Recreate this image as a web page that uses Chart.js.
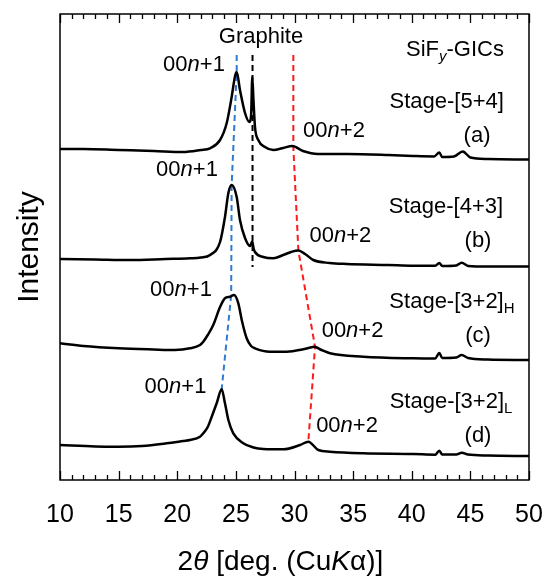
<!DOCTYPE html>
<html>
<head>
<meta charset="utf-8">
<script src="https://cdn.jsdelivr.net/npm/chart.js@4/dist/chart.umd.min.js"></script>
<style>
  html, body { margin: 0; padding: 0; background: #fff; }
</style>
</head>
<body>
<canvas id="chart" width="545" height="578"></canvas>
<script>
'use strict';

// 2theta values and intensities (offset already included)
const thetaA = [10, 12, 15, 18, 20.5, 22.0, 22.8, 23.65, 24.22, 24.64, 24.93, 25.07, 25.35, 25.78, 26.15, 26.3, 26.4, 26.5, 26.63, 26.91, 27.48, 28.19, 29.04, 29.8, 30.72, 32.0, 34.5, 38.0, 40.1, 41.9, 42.35, 42.6, 43.6, 44.35, 45.0, 46.5, 50];
const intA   = [331, 331, 330, 329, 328, 330, 331.7, 340, 357, 383, 404, 408, 390, 367, 358, 365, 403, 380, 353, 340, 333, 330, 332, 334, 329, 326, 326, 325, 324, 323.5, 327.5, 323, 323.5, 328.5, 322.5, 321, 320.5];

const thetaB = [10, 13, 16, 19, 21.09, 22.0, 22.8, 23.65, 24.07, 24.36, 24.64, 25.07, 25.35, 25.78, 26.2, 26.4, 26.5, 26.63, 27.34, 28.19, 29.04, 29.7, 30.33, 30.9, 31.6, 33.0, 34.45, 38, 40.13, 42.0, 42.35, 42.6, 43.8, 44.26, 44.8, 46.5, 50];
const intB   = [221, 220.5, 220, 221, 221.7, 222.5, 225, 238, 263, 287, 295, 283, 260, 242, 234, 238.5, 232, 228, 223, 221.7, 225, 228, 229.5, 226, 220, 217, 216, 215, 214.3, 214.3, 217, 214, 214.5, 217.3, 214, 213.5, 213.5];

const thetaC = [10, 12, 15, 18, 19.8, 21.09, 21.94, 22.22, 22.6, 23.07, 23.65, 24.07, 24.5, 24.84, 25.21, 25.5, 25.92, 26.3, 26.63, 27.91, 29.33, 30.75, 31.2, 31.7, 32.3, 33.03, 35.87, 40.13, 42.0, 42.35, 42.6, 43.8, 44.26, 44.8, 46.5, 50];
const intC   = [136.7, 134, 131.7, 130.5, 130, 131.7, 135, 138.3, 145, 155, 173, 181.7, 183.3, 185, 176.7, 160, 141.7, 134, 131.7, 128.3, 128.3, 130.7, 132, 133.3, 130, 126.7, 123.3, 121.7, 121.5, 127, 122, 122.5, 125, 122, 120.5, 120];

const thetaD = [10, 13, 15, 17, 19.1, 20.5, 21.09, 21.94, 22.22, 22.6, 22.94, 23.36, 23.79, 24.07, 24.36, 24.78, 25.63, 26.5, 27.34, 29.04, 30.47, 31.18, 32.03, 33.03, 35.87, 40.13, 42.0, 42.35, 42.6, 43.8, 44.26, 44.8, 46.5, 50];
const intD   = [35, 33.5, 33.3, 34, 36.7, 39, 40, 43.3, 46.7, 53, 63.3, 76.7, 90.7, 76.7, 60, 46.7, 36.7, 32.5, 31, 30.7, 35, 38.3, 30, 28.3, 26.7, 26, 25.3, 29.3, 25.5, 25.5, 27.3, 25.5, 24.5, 24];

// guide lines through the peaks
const blueX = [25.07, 25.07, 24.64, 24.6, 23.79];
const blueY = [425, 408, 295, 185, 90.7];
const blackX = [26.42, 26.42];
const blackY = [425, 213];
const redX = [29.9, 29.9, 30.33, 31.75, 31.18];
const redY = [425, 333, 229.5, 133.3, 38.3];

const xTicks = [10, 15, 20, 25, 30, 35, 40, 45, 50];

const FONT = '"Liberation Sans", Arial, sans-serif';

// annotation labels: [theta, y, parts]
const N1 = [['00', 'n'], ['n', 'i'], ['+1', 'n']];
const N2 = [['00', 'n'], ['n', 'i'], ['+2', 'n']];
const labels = [
  [27.14, 443, [['Graphite', 'n']]],
  [43.69, 430, [['SiF', 'n'], ['y', 'isub'], ['-GICs', 'n']]],
  [21.43, 415, N1], [33.37, 349, N2],
  [42.98, 378, [['Stage-[5+4]', 'n']]], [45.57, 344, [['(a)', 'n']]],
  [20.83, 310, N1], [33.92, 244, N2],
  [42.92, 273, [['Stage-[4+3]', 'n']]], [45.65, 239, [['(b)', 'n']]],
  [20.32, 190, N1], [34.95, 149, N2],
  [43.43, 178, [['Stage-[3+2]', 'n'], ['H', 'sub']]], [45.65, 144, [['(c)', 'n']]],
  [19.85, 93, N1], [34.48, 54, N2],
  [43.35, 78, [['Stage-[3+2]', 'n'], ['L', 'sub']]], [45.65, 44, [['(d)', 'n']]]
];

function pts(xs, ys) {
  return xs.map((x, i) => ({ x: x, y: ys[i] }));
}

function curve(xs, ys) {
  return {
    data: pts(xs, ys),
    borderColor: '#000',
    borderWidth: 2.5,
    pointRadius: 0,
    cubicInterpolationMode: 'monotone'
  };
}

function guide(xs, ys, color) {
  return {
    data: pts(xs, ys),
    borderColor: color,
    borderWidth: 2,
    borderDash: [6, 4],
    pointRadius: 0,
    tension: 0
  };
}

function drawRich(ctx, parts, cx, cy, size) {
  let total = 0;
  const segs = parts.map(([t, st]) => {
    const sub = st === 'sub' || st === 'isub';
    const ital = st === 'i' || st === 'isub';
    const fs = sub ? Math.round(size * 0.66) : size;
    const font = (ital ? 'italic ' : '') + fs + 'px ' + FONT;
    ctx.font = font;
    const w = ctx.measureText(t).width;
    total += w;
    return { t: t, font: font, w: w, dy: sub ? size * 0.3 : 0 };
  });
  let x = cx - total / 2;
  ctx.textAlign = 'left';
  ctx.textBaseline = 'middle';
  segs.forEach(s => {
    ctx.font = s.font;
    ctx.fillText(s.t, x, cy + s.dy);
    x += s.w;
  });
}

const decorations = {
  id: 'decorations',
  afterDraw(chart) {
    const ctx = chart.ctx;
    const area = chart.chartArea;
    const xs = chart.scales.x;
    const ys = chart.scales.y;
    ctx.save();
    ctx.fillStyle = '#000';
    ctx.strokeStyle = '#000';

    // frame
    ctx.lineWidth = 1.5;
    ctx.strokeRect(area.left, area.top, area.right - area.left, area.bottom - area.top);

    // inward ticks top and bottom
    ctx.lineWidth = 1.3;
    for (let v = xs.min; v <= xs.max; v++) {
      const px = Math.round(xs.getPixelForValue(v)) + 0.5;
      const len = v % 5 === 0 ? 9 : 5;
      ctx.beginPath();
      ctx.moveTo(px, area.bottom);
      ctx.lineTo(px, area.bottom - len);
      ctx.moveTo(px, area.top);
      ctx.lineTo(px, area.top + len);
      ctx.stroke();
    }

    // annotations
    labels.forEach(([tx, ty, parts]) => {
      drawRich(ctx, parts, xs.getPixelForValue(tx), ys.getPixelForValue(ty), 22);
    });

    // axis titles
    drawRich(ctx, [['2', 'n'], ['θ', 'i'], [' [deg. (Cu', 'n'], ['K', 'i'], ['α)]', 'n']],
      xs.getPixelForValue(28.8), 562, 28);

    ctx.save();
    ctx.translate(30, (area.top + area.bottom) / 2);
    ctx.rotate(-Math.PI / 2);
    drawRich(ctx, [['Intensity', 'n']], 0, 0, 30);
    ctx.restore();

    ctx.restore();
  }
};

new Chart(document.getElementById('chart'), {
  type: 'line',
  data: {
    datasets: [
      curve(thetaA, intA),
      curve(thetaB, intB),
      curve(thetaC, intC),
      curve(thetaD, intD),
      guide(blueX, blueY, '#2e7bd0'),
      guide(blackX, blackY, '#000'),
      guide(redX, redY, '#ff1a1a')
    ]
  },
  options: {
    responsive: false,
    animation: false,
    layout: { padding: { left: 60, right: 16, top: 14, bottom: 0 } },
    plugins: { legend: { display: false }, tooltip: { enabled: false } },
    scales: {
      x: {
        type: 'linear',
        min: 10,
        max: 50,
        afterFit(scale) {
          scale.height = 98;
          scale.paddingLeft = 0;
          scale.paddingRight = 0;
        },
        afterBuildTicks(scale) { scale.ticks = xTicks.map(v => ({ value: v })); },
        grid: { display: false, drawTicks: false },
        border: { display: false },
        ticks: {
          autoSkip: false,
          maxRotation: 0,
          padding: 20,
          color: '#000',
          font: { family: FONT, size: 25 }
        }
      },
      y: {
        display: false,
        min: 0,
        max: 466
      }
    }
  },
  plugins: [decorations]
});
</script>
</body>
</html>
